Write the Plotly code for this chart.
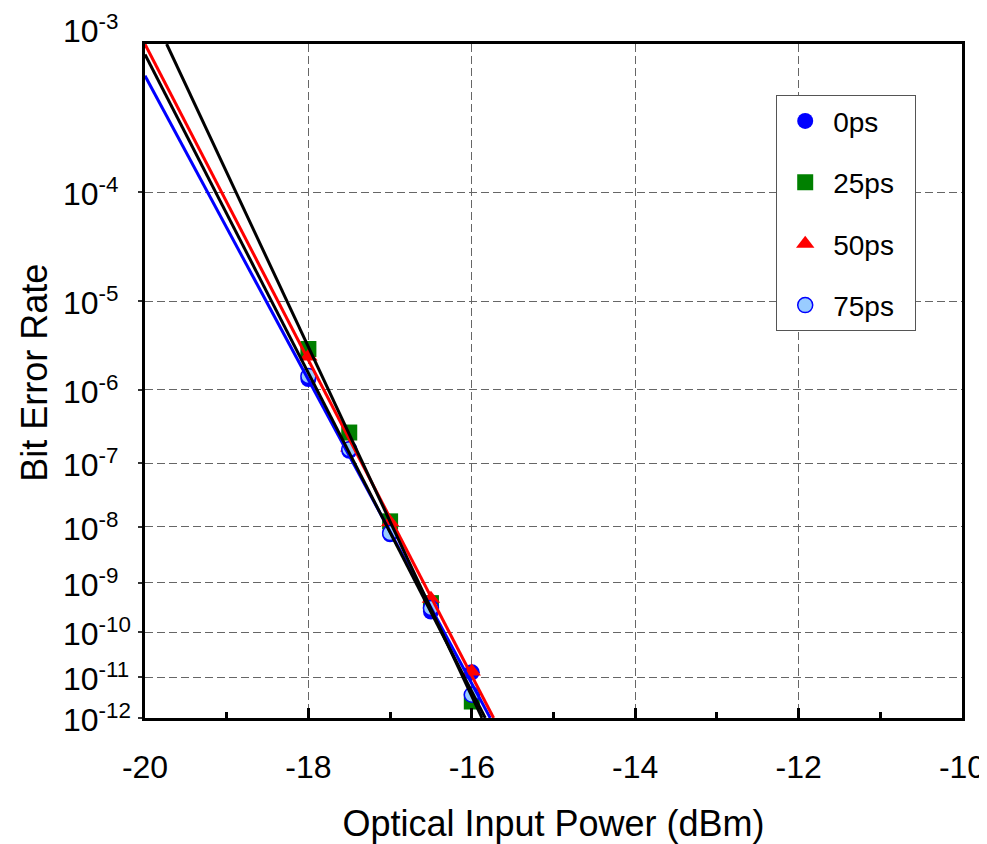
import numpy as np
import plotly.graph_objects as go

# ---------------- data ----------------
power_dbm = [-18.0, -17.5, -17.0, -16.5, -16.0]

ber_0ps = [1.35e-6, 1.52e-7, 7.5e-9, 2.7e-10, 1.3e-11]
ber_25ps = [3.05e-6, 2.74e-7, 1.24e-8, 4.0e-10, 2.6e-12]
ber_50ps = [2.5e-6, 1.7e-7, 1.2e-8, 4.9e-10, 1.36e-11]
ber_75ps = [1.47e-6, 1.6e-7, 7.9e-9, 3.19e-10, 3.8e-12]

series_names = ["0ps", "25ps", "50ps", "75ps"]

# fitted lines: (power, BER) end points
fit_blue_x = [-20.0, -15.774]
fit_blue_ber = [6.8e-4, 1e-12]
fit_red_x = [-20.0, -15.733]
fit_red_ber = [1.057e-3, 1e-12]
fit_black_a_x = [-20.0, -15.835]
fit_black_a_ber = [9.2e-4, 1e-12]
fit_black_b_x = [-19.735, -15.875]
fit_black_b_ber = [1.06e-3, 1e-12]

x_range = [-20, -10]
x_tick_vals = [-20, -18, -16, -14, -12, -10]
y_tick_exponents = [-4, -5, -6, -7, -8, -9, -10, -11, -12]
y_top_exponent = -3
ber_axis_top = 1.06e-3
ber_axis_bottom = 1e-12

x_title = "Optical Input Power (dBm)"
y_title = "Bit Error Rate"


def q(ber):
    """BER display scale (double-log type)."""
    return -np.log10(-np.log10(np.asarray(ber, dtype=float)) - 0.3)


FONT = "Arial, Liberation Sans, sans-serif"
NBSP = "\u00a0"

fig = go.Figure()

marker_specs = [
    (ber_0ps, dict(symbol="circle", size=16, color="#0000FF", line=dict(width=0))),
    (ber_25ps, dict(symbol="square", size=16, color="#008000", line=dict(width=0))),
    (ber_50ps, dict(symbol="triangle-up", size=16, color="#FF0000", line=dict(width=0))),
    (ber_75ps, dict(symbol="circle", size=15, color="#99CCFF", line=dict(width=1.5, color="#0000FF"))),
]
for name, (vals, mk) in zip(series_names, marker_specs):
    fig.add_trace(go.Scatter(
        x=power_dbm, y=q(vals), mode="markers", name=name + NBSP * 2,
        legendgroup=name, marker=mk, cliponaxis=False,
    ))

fit_specs = [
    (fit_blue_x, fit_blue_ber, "#0000FF"),
    (fit_red_x, fit_red_ber, "#FF0000"),
    (fit_black_a_x, fit_black_a_ber, "#000000"),
    (fit_black_b_x, fit_black_b_ber, "#000000"),
]
for fx, fb, col in fit_specs:
    fig.add_trace(go.Scatter(
        x=fx, y=q(fb), mode="lines", line=dict(color=col, width=3),
        showlegend=False, hoverinfo="skip",
    ))

grid_color = "#666666"

fig.update_xaxes(
    range=x_range, tickvals=x_tick_vals, ticktext=[str(v) for v in x_tick_vals],
    ticks="inside", ticklen=10, tickwidth=2.5, tickcolor="black",
    minor=dict(dtick=1, tick0=-20, ticks="inside", ticklen=6, tickwidth=2.5,
               tickcolor="black", showgrid=False),
    showgrid=True, gridcolor=grid_color, griddash="8px,4px", gridwidth=1.3,
    showline=True, linewidth=3, linecolor="black", mirror=True,
    tickfont=dict(size=32, family=FONT, color="black"),
    ticklabelstandoff=19,
    title=dict(text=x_title, font=dict(size=36, family=FONT), standoff=27),
    zeroline=False,
)

fig.update_yaxes(
    range=[float(q(ber_axis_bottom)), float(q(ber_axis_top))],
    tickvals=[float(q(10.0 ** e)) for e in y_tick_exponents],
    showticklabels=False,
    ticks="outside", ticklen=4, tickwidth=1.5, tickcolor="#333333",
    showgrid=True, gridcolor=grid_color, griddash="8px,4px", gridwidth=1.3,
    showline=True, linewidth=3, linecolor="black", mirror=True,
    zeroline=False,
)

label_x = -0.1029
annotations = []
for e in y_tick_exponents:
    annotations.append(dict(
        text=f"10<sup>{e}</sup>", xref="paper", x=label_x, xanchor="left",
        yref="y", y=float(q(10.0 ** e)), yanchor="middle", yshift=0,
        showarrow=False, font=dict(size=32, family=FONT, color="black"),
    ))
annotations.append(dict(
    text=f"10<sup>{y_top_exponent}</sup>", xref="paper", x=label_x, xanchor="left",
    yref="paper", y=1, yanchor="middle", yshift=15,
    showarrow=False, font=dict(size=32, family=FONT, color="black"),
))
# y axis title
annotations.append(dict(
    text=y_title, textangle=-90, xref="paper", x=-0.1347, xanchor="center",
    yref="paper", y=0.512, yanchor="middle", showarrow=False,
    font=dict(size=36, family=FONT, color="black"),
))

fig.update_layout(
    width=979, height=836,
    margin=dict(l=137, r=25, t=36, b=126, autoexpand=False),
    plot_bgcolor="white", paper_bgcolor="white",
    font=dict(family=FONT, color="black"),
    annotations=annotations,
    legend=dict(
        x=0.7726, y=0.924, xanchor="left", yanchor="top",
        bgcolor="white", bordercolor="#555555", borderwidth=1,
        font=dict(size=28, family=FONT, color="black"),
        itemwidth=46, tracegroupgap=22, traceorder="grouped",
    ),
)

fig.write_html("out.html")
